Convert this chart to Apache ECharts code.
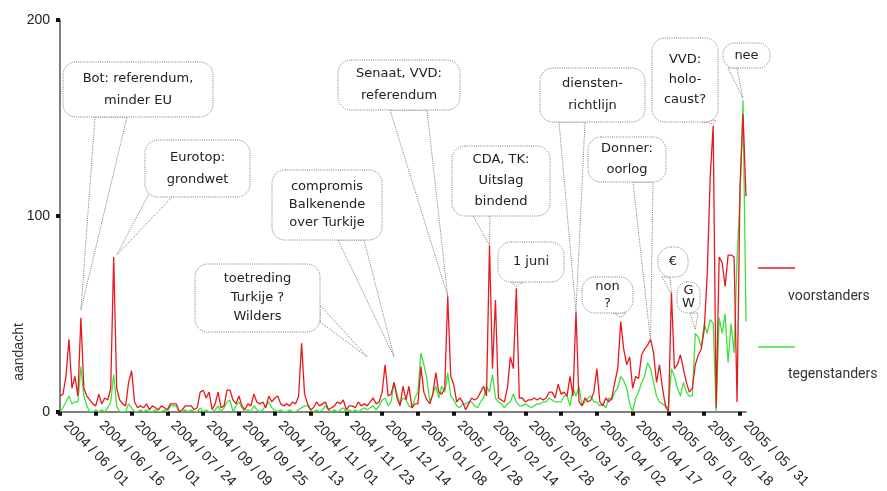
<!DOCTYPE html>
<html>
<head>
<meta charset="utf-8">
<script src="https://cdn.jsdelivr.net/npm/echarts@6/dist/echarts.min.js"></script>
<style>
html,body{margin:0;padding:0;background:#fff;}
#chart{width:887px;height:491px;}
</style>
</head>
<body>
<div id="chart"></div>
<script>
// Tick labels along the category axis (one every 12 data points)
const tickLabels = [
  '2004 / 06 / 01','2004 / 06 / 16','2004 / 07 / 01','2004 / 07 / 24','2004 / 09 / 09',
  '2004 / 09 / 25','2004 / 10 / 13','2004 / 11 / 01','2004 / 11 / 23','2004 / 12 / 14',
  '2005 / 01 / 08','2005 / 01 / 28','2005 / 02 / 14','2005 / 02 / 28','2005 / 03 / 16',
  '2005 / 04 / 02','2005 / 04 / 17','2005 / 05 / 01','2005 / 05 / 18','2005 / 05 / 31'
];
const pointsPerTick = 12;

// voorstanders (red)
const voorstanders = [
  8,9,18,37,12,18,8,48,12,8,6,4,
  3,9,4,7,6,12,79,12,6,4,3,15,
  21,5,2,3,2,4,1,3,2,1,3,2,
  1,4,4,4,0,1,3,3,3,1,2,10,
  11,7,10,1,4,10,2,3,11,11,6,4,
  8,3,1,4,3,9,5,4,5,2,8,5,
  7,8,4,3,4,3,5,4,8,35,9,4,
  1,2,5,3,4,5,1,2,3,5,4,6,
  1,3,3,2,5,3,4,3,5,7,4,5,
  10,24,8,9,15,7,3,13,6,13,2,4,
  4,23,10,6,4,9,20,10,9,12,59,18,
  14,5,7,5,1,4,7,6,7,10,13,8,
  85,22,57,7,6,5,12,28,22,63,7,7,
  5,6,6,7,6,7,6,7,10,10,7,14,
  9,10,8,18,8,51,5,3,7,5,6,10,
  22,5,3,7,5,7,15,22,46,32,24,28,
  12,18,17,29,32,34,37,30,15,24,12,3,
  0,61,22,24,29,22,15,10,12,24,29,32,
  42,70,120,146,2,79,76,64,80,80,79,5,
  115,152,110
];

// tegenstanders (green)
const tegenstanders = [
  0,2,5,8,4,5,5,23,8,3,0,0,
  1,0,1,0,2,5,19,3,0,0,0,4,
  2,0,0,1,0,1,0,0,1,0,0,1,
  0,3,3,3,0,0,1,0,1,0,0,2,
  0,1,0,0,1,3,0,2,5,6,0,3,
  5,2,0,1,0,3,1,0,1,3,5,2,
  1,0,1,0,0,1,0,0,1,2,3,3,
  1,0,1,0,1,3,1,0,1,0,1,2,
  0,1,0,1,0,1,2,1,2,3,1,3,
  6,7,3,5,15,9,4,7,6,3,2,7,
  10,30,24,17,5,9,13,7,13,10,20,8,
  6,3,2,4,4,5,5,3,2,5,7,13,
  10,19,7,5,4,2,4,5,9,5,3,3,
  4,3,2,3,4,4,5,5,7,6,5,5,
  5,8,8,3,12,8,13,3,5,7,8,5,
  5,3,4,2,7,6,10,12,18,16,12,4,
  0,7,10,15,18,25,22,15,8,5,4,3,
  2,22,18,12,8,15,10,8,8,40,38,33,
  45,40,47,45,0,48,40,50,25,45,30,78,
  110,159,46
];

const seriesNames = ['voorstanders','tegenstanders'];
const yTicks = [0, 100, 200];

// callouts: text, box rect in pixels, base points of the tail, tip in data coords [index, value]
const callouts = [
  {text:'Bot: referendum,\nminder EU', box:[63,62,150,55], lh:22, base:[[95,117],[127,117]], tip:[7,52]},
  {text:'Eurotop:\ngrondwet', box:[145,140,105,57], lh:22, base:[[152,188],[172,197]], tip:[19,80]},
  {text:'compromis\nBalkenende\nover Turkije', box:[272,170,110,70], lh:18, base:[[338,240],[364,240]], tip:[112,28]},
  {text:'toetreding\nTurkije ?\nWilders', box:[195,264,125,68], lh:19, base:[[320,305],[320,322]], tip:[103,28]},
  {text:'Senaat, VVD:\nreferendum', box:[338,60,122,50], lh:22, base:[[390,110],[427,110]], tip:[130,59]},
  {text:'CDA, TK:\nUitslag\nbindend', box:[452,146,98,70], lh:21, base:[[472,214],[490,216]], tip:[144,85]},
  {text:'1 juni', box:[498,242,66,40], lh:20, base:[[511,282],[523,282]], tip:[153,64]},
  {text:'diensten-\nrichtlijn', box:[540,68,105,54], lh:22, base:[[559,122],[585,122]], tip:[173,51]},
  {text:'Donner:\noorlog', box:[588,137,78,45], lh:21, base:[[633,182],[653,182]], tip:[198,36]},
  {text:'non\n?', box:[582,277,51,36], lh:17, base:[[614,313],[626,313]], tip:[188,48]},
  {text:'€', box:[658,247,30,30], lh:16, base:[[662,277],[670,277]], tip:[205,60]},
  {text:'G\nW', box:[677,282,23,31], lh:13, base:[[690,313],[698,313]], tip:[213,42]},
  {text:'VVD:\nholo-\ncaust?', box:[652,38,66,84], lh:20, base:[[702,122],[716,120]], tip:[219,147]},
  {text:'nee', box:[723,43,47,25], lh:16, base:[[728,68],[737,68]], tip:[229,160]}
];

const nPoints = voorstanders.length;
const categories = [];
for (let i = 0; i < nPoints; i++) {
  const k = i / pointsPerTick;
  categories.push(Number.isInteger(k) && k < tickLabels.length ? tickLabels[k] : '');
}

const chart = echarts.init(document.getElementById('chart'), null, {renderer:'canvas'});
const font = 'Liberation Sans, Arial, sans-serif';

chart.setOption({
  animation: false,
  backgroundColor: '#fff',
  grid: {left: 60, right: 141, top: 20, bottom: 78, containLabel: false},
  xAxis: {
    type: 'category',
    data: categories,
    boundaryGap: false,
    axisLine: {lineStyle: {color: '#555', width: 1.5}},
    axisTick: {show: true, interval: pointsPerTick - 1, length: 4, lineStyle: {color: '#111', width: 4}},
    axisLabel: {interval: pointsPerTick - 1, rotate: -45, fontSize: 14, color: '#222', fontFamily: font,
      margin: 6, padding: [0, 0, 0, 8]},
    splitLine: {show: false}
  },
  yAxis: {
    type: 'value',
    min: yTicks[0], max: yTicks[yTicks.length - 1], interval: 100,
    axisLine: {show: true, lineStyle: {color: '#555', width: 1.5}},
    axisTick: {show: true, length: 4, lineStyle: {color: '#111', width: 4}},
    axisLabel: {fontSize: 14, color: '#222', fontFamily: font, margin: 10},
    splitLine: {show: false}
  },
  series: [
    {name: seriesNames[1], type: 'line', data: tegenstanders, symbol: 'none',
     lineStyle: {color: '#3ee23e', width: 1.3}, z: 2},
    {name: seriesNames[0], type: 'line', data: voorstanders, symbol: 'none',
     lineStyle: {color: '#e8191e', width: 1.3}, z: 3}
  ]
});

const g = [];
const dotted = {stroke: '#7a7a7a', lineWidth: 1, lineDash: [1, 1.2]};
callouts.forEach(function (c) {
  const tip = chart.convertToPixel({xAxisIndex: 0, yAxisIndex: 0}, c.tip);
  g.push({type: 'polygon', z: 100,
    shape: {points: [c.base[0], tip, c.base[1]]},
    style: Object.assign({fill: '#fff'}, dotted)});
  g.push({type: 'rect', z: 101,
    shape: {x: c.box[0], y: c.box[1], width: c.box[2], height: c.box[3], r: Math.min(13, c.box[2] / 2 - 1, c.box[3] / 2 - 1)},
    style: Object.assign({fill: '#fff'}, dotted)});
  g.push({type: 'text', z: 102,
    style: {text: c.text, x: c.box[0] + c.box[2] / 2, y: c.box[1] + c.box[3] / 2,
      align: 'center', verticalAlign: 'middle', lineHeight: c.lh,
      font: '13px DejaVu Sans, sans-serif', fill: '#222'}});
});

// legend
g.push({type: 'line', z: 100, shape: {x1: 758, y1: 268, x2: 795, y2: 268}, style: {stroke: '#e8191e', lineWidth: 1.3}});
g.push({type: 'text', z: 100, style: {text: seriesNames[0], x: 788, y: 296, verticalAlign: 'middle', font: '14px Roboto, sans-serif', fill: '#333'}});
g.push({type: 'line', z: 100, shape: {x1: 758, y1: 347, x2: 795, y2: 347}, style: {stroke: '#3ee23e', lineWidth: 1.3}});
g.push({type: 'text', z: 100, style: {text: seriesNames[1], x: 788, y: 374, verticalAlign: 'middle', font: '14px Roboto, sans-serif', fill: '#333'}});

// y axis title
g.push({type: 'text', z: 100, rotation: Math.PI / 2, x: 19, y: 352,
  style: {text: 'aandacht', align: 'center', verticalAlign: 'middle', font: '14px Liberation Sans, Arial, sans-serif', fill: '#333'}});

chart.setOption({graphic: g});
</script>
</body>
</html>
